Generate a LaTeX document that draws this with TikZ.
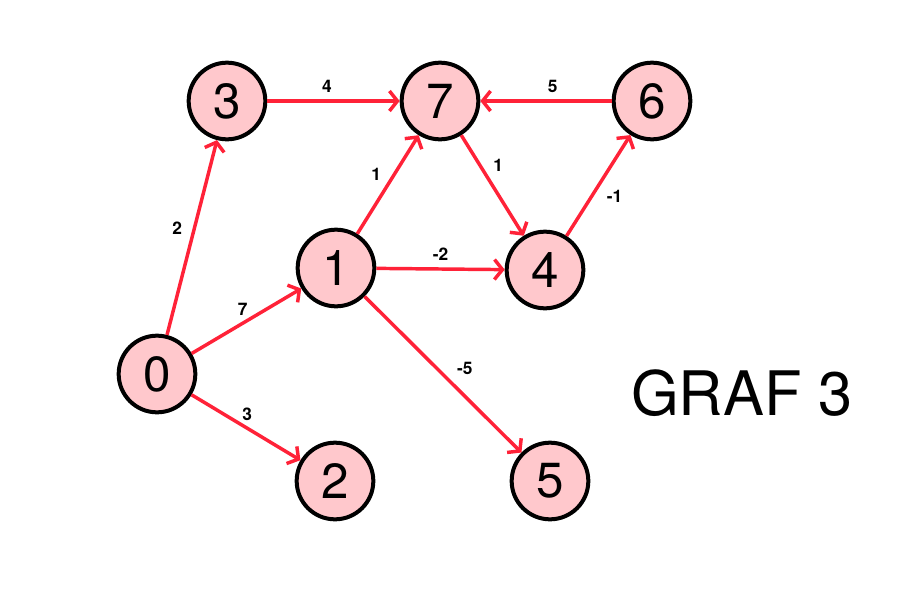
\documentclass[tikz,border=0pt]{standalone}
\usepackage{fontspec}
\setmainfont{TeX Gyre Heros}
\usetikzlibrary{arrows.meta,positioning}
\definecolor{edgered}{RGB}{255,34,56}
\definecolor{nodepink}{RGB}{255,200,204}
\tikzset{
  vertex/.style={circle,draw=black,line width=3pt,fill=nodepink,minimum size=57.5pt,inner sep=0pt,font=\fontsize{37}{37}\selectfont},
  edge/.style={draw=edgered,line width=2.6pt,-{Straight Barb[length=6pt,width=15pt]}},
  weight/.style={font=\fontsize{13}{13}\selectfont\bfseries,inner sep=2pt}
}
\begin{document}
\begin{tikzpicture}[x=0.75pt,y=0.75pt,yscale=-1]
\useasboundingbox (0,0) rectangle (900,600);

% vertices
\node[vertex] (v0) at (157,374) {0};
\node[vertex] (v3) at (227,101) {3};
\node[vertex] (v7) at (440,101) {7};
\node[vertex] (v6) at (652,101) {6};
\node[vertex] (v1) at (336,268) {1};
\node[vertex] (v4) at (545,270) {4};
\node[vertex] (v2) at (335,481) {2};
\node[vertex] (v5) at (550,481) {5};

% edges
\draw[edge] (v0) -- node[weight,pos=0.55,left=6pt] {2} (v3);
\draw[edge] (v0) -- node[weight,pos=0.5,above left=1pt and -4pt] {7} (v1);
\draw[edge] (v0) -- node[weight,pos=0.5,above right=2pt and -6pt] {3} (v2);
\draw[edge] (v3) -- node[weight,pos=0.45,above=3pt] {4} (v7);
\draw[edge] (v6) -- node[weight,pos=0.45,above=3pt] {5} (v7);
\draw[edge] (v1) -- node[weight,pos=0.5,above left=0pt and 2pt] {1} (v7);
\draw[edge] (v7) -- node[weight,pos=0.4,above right=0pt and 2pt] {1} (v4);
\draw[edge] (v4) -- node[weight,pos=0.5,below right=0pt and 3pt] {-1} (v6);
\draw[edge] (v1) -- node[weight,pos=0.5,above=3pt] {-2} (v4);
\draw[edge] (v1) -- node[weight,pos=0.52,above right=-1pt and 5pt] {-5} (v5);

% title
\node[font=\fontsize{46}{46}\selectfont] (title) at (742,393) {GRAF 3};

\end{tikzpicture}
\end{document}
